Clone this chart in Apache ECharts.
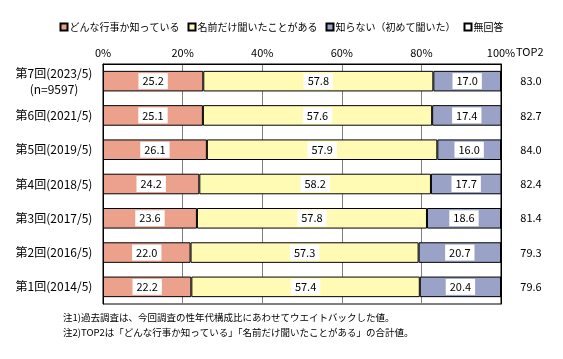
<!DOCTYPE html>
<html><head><meta charset="utf-8">
<script src="https://cdn.jsdelivr.net/npm/echarts@6/dist/echarts.min.js"></script>
<style>html,body{margin:0;padding:0;background:#fff}#c{width:563px;height:359px}</style>
</head><body><div id="c"></div>
<script>
const categories = ['第7回(2023/5)\n(n=9597)', '第6回(2021/5)', '第5回(2019/5)', '第4回(2018/5)', '第3回(2017/5)', '第2回(2016/5)', '第1回(2014/5)'];
const seriesNames = ['どんな行事か知っている', '名前だけ聞いたことがある', '知らない（初めて聞いた）', '無回答'];
const known = [25.2, 25.1, 26.1, 24.2, 23.6, 22.0, 22.2];
const heardName = [57.8, 57.6, 57.9, 58.2, 57.8, 57.3, 57.4];
const unknown = [17.0, 17.4, 16.0, 17.7, 18.6, 20.7, 20.4];
const noAnswer = [0, 0, 0, 0, 0, 0, 0];
const top2 = ['83.0', '82.7', '84.0', '82.4', '81.4', '79.3', '79.6'];
const xTicks = [0, 20, 40, 60, 80, 100];
const notes = ['注1)過去調査は、今回調査の性年代構成比にあわせてウエイトバックした値。',
               '注2)TOP2は「どんな行事か知っている」「名前だけ聞いたことがある」の合計値。'];

const colors = ['#EBA18B', '#FFFBB5', '#9BA2C8', '#FFFFFF'];
const values = [known, heardName, unknown, noAnswer];
const JP = '"Noto Sans CJK JP", sans-serif';

const chart = echarts.init(document.getElementById('c'), null, {renderer: 'canvas'});
chart.setOption({
  animation: false,
  backgroundColor: '#fff',
  textStyle: {fontFamily: JP, color: '#000'},
  legend: {
    top: 17, left: 'center', itemGap: 8, itemWidth: 7, itemHeight: 7, icon: 'rect',
    textStyle: {fontSize: 10, color: '#000', fontFamily: JP, padding: [0, 0, 0, -3]},
    data: seriesNames
  },
  grid: {left: 103, right: 62, top: 64, bottom: 55, show: true, borderColor: '#000', borderWidth: 1, backgroundColor: 'transparent'},
  xAxis: {
    type: 'value', position: 'top', min: 0, max: 100, interval: 20,
    axisLine: {show: true, lineStyle: {color: '#000'}},
    axisTick: {show: false},
    splitLine: {show: true, lineStyle: {color: '#808080', width: 1}},
    axisLabel: {fontSize: 11, color: '#000', margin: 6, formatter: v => xTicks.includes(v) ? v + '%' : ''}
  },
  yAxis: [{
    type: 'category', inverse: true, data: categories,
    axisLine: {show: true, lineStyle: {color: '#000'}}, axisTick: {show: false},
    axisLabel: {fontSize: 12, color: '#000', align: 'center', margin: 49, lineHeight: 16}
  }, {
    type: 'category', inverse: true, data: top2, position: 'right',
    axisLine: {show: true, lineStyle: {color: '#000'}}, axisTick: {show: false},
    axisLabel: {fontSize: 11, color: '#000', align: 'center', margin: 30}
  }],
  graphic: [
    {type: 'text', left: 516, top: 46, style: {text: 'TOP2', font: '11px ' + JP, fill: '#000'}},
    {type: 'text', left: 63, top: 313, style: {text: notes[0], font: '9.5px ' + JP, fill: '#000'}},
    {type: 'text', left: 63, top: 328, style: {text: notes[1], font: '9.5px ' + JP, fill: '#000'}}
  ],
  series: seriesNames.map((name, i) => ({
    name, type: 'bar', stack: 'total', barWidth: '60%', yAxisIndex: 0,
    itemStyle: {color: colors[i], borderColor: '#000', borderWidth: 1},
    label: {
      show: i < 3, position: 'inside', fontSize: 11, color: '#000', fontFamily: JP,
      backgroundColor: '#fff', padding: [3, 4, 2, 4],
      formatter: p => p.value.toFixed(1)
    },
    data: values[i]
  }))
});
</script></body></html>
